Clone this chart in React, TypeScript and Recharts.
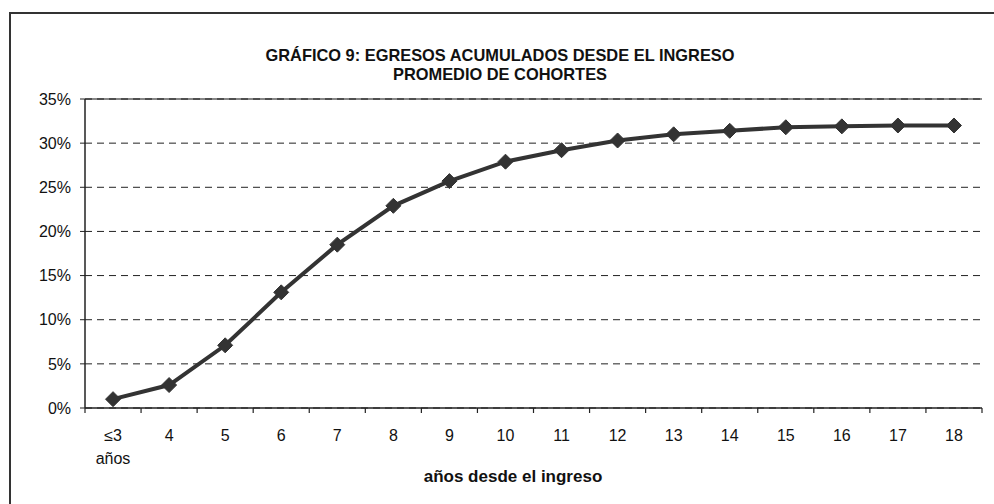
import React from 'react';
import { LineChart, Line, XAxis, YAxis, CartesianGrid, ReferenceLine } from 'recharts';

const CATEGORIES = ['≤3\naños', '4', '5', '6', '7', '8', '9', '10', '11', '12', '13', '14', '15', '16', '17', '18'];
const EGRESOS = [1.0, 2.6, 7.1, 13.1, 18.5, 22.9, 25.7, 27.9, 29.2, 30.3, 31.0, 31.4, 31.8, 31.9, 32.0, 32.0];
const Y_TICKS = [0, 5, 10, 15, 20, 25, 30, 35];

const data = CATEGORIES.map((c, i) => ({ name: c, value: EGRESOS[i] }));

const W = 994;
const H = 504;
const M = { top: 99, right: 12, bottom: 66, left: 25 };
const Y_W = 60;
const PLOT_W = W - M.left - Y_W - M.right;
const BAND = PLOT_W / CATEGORIES.length;
const FONT = '"Liberation Sans", Arial, sans-serif';

const Diamond = (props: any) => {
  const { cx, cy } = props;
  if (cx == null || cy == null) return null;
  const r = 7.5;
  return (
    <polygon
      points={`${cx},${cy - r} ${cx + r},${cy} ${cx},${cy + r} ${cx - r},${cy}`}
      fill="#333"
      stroke="#333"
    />
  );
};

const XTick = (props: any) => {
  const { x, y, payload, index } = props;
  const lines = String(payload.value).split('\n');
  const last = index === CATEGORIES.length - 1;
  return (
    <g>
      <line x1={x - BAND / 2} x2={x - BAND / 2} y1={y} y2={y + 5} stroke="#222" strokeWidth={1.2} />
      {last && <line x1={x + BAND / 2} x2={x + BAND / 2} y1={y} y2={y + 5} stroke="#222" strokeWidth={1.2} />}
      {lines.map((l, i) => (
        <text key={i} x={x} y={y + 33 + i * 23} textAnchor="middle" fontSize={16} fontFamily={FONT} fill="#111">
          {l}
        </text>
      ))}
    </g>
  );
};

export default function App() {
  return (
    <div style={{ position: 'fixed', left: 0, top: 0, width: W, height: H, overflow: 'hidden', background: '#fff' }}>
      <div
        style={{
          position: 'absolute',
          left: 9,
          top: 12,
          width: 1100,
          height: 1100,
          border: '2px solid #333',
        }}
      />
      <div
        style={{
          position: 'absolute',
          left: 0,
          top: 46,
          width: 1000,
          textAlign: 'center',
          fontFamily: FONT,
          fontWeight: 'bold',
          fontSize: 16.4,
          lineHeight: '19px',
          color: '#111',
        }}
      >
        GRÁFICO 9: EGRESOS ACUMULADOS DESDE EL INGRESO
        <br />
        PROMEDIO DE COHORTES
      </div>
      <div
        style={{
          position: 'absolute',
          left: 0,
          top: 467,
          width: 1026,
          textAlign: 'center',
          fontFamily: FONT,
          fontWeight: 'bold',
          fontSize: 17,
          color: '#111',
        }}
      >
        años desde el ingreso
      </div>
      <div style={{ position: 'absolute', left: 0, top: 0 }}>
        <LineChart width={W} height={H} data={data} margin={M}>
          <CartesianGrid horizontal vertical={false} stroke="#222" strokeDasharray="7 5" />
          <ReferenceLine y={35} stroke="#111" strokeWidth={1.2} />
          <XAxis
            dataKey="name"
            scale="band"
            interval={0}
            tickLine={false}
            tickSize={0}
            tickMargin={0}
            height={30}
            axisLine={{ stroke: '#222', strokeWidth: 1.5 }}
            tick={<XTick />}
          />
          <YAxis
            domain={[0, 35]}
            ticks={Y_TICKS}
            width={Y_W}
            tickFormatter={(v: number) => `${v}%`}
            tickSize={5}
            tickMargin={9}
            tickLine={{ stroke: '#222' }}
            axisLine={{ stroke: '#222', strokeWidth: 1.5 }}
            tick={{ fontSize: 16, fontFamily: FONT, fill: '#111' }}
          />
          <YAxis
            yAxisId="r"
            orientation="right"
            domain={[0, 35]}
            width={0}
            tick={false}
            tickLine={false}
            axisLine={{ stroke: '#111', strokeWidth: 1.2 }}
          />
          <Line
            type="linear"
            dataKey="value"
            stroke="#333"
            strokeWidth={4}
            dot={<Diamond />}
            activeDot={false}
            isAnimationActive={false}
          />
        </LineChart>
      </div>
    </div>
  );
}
